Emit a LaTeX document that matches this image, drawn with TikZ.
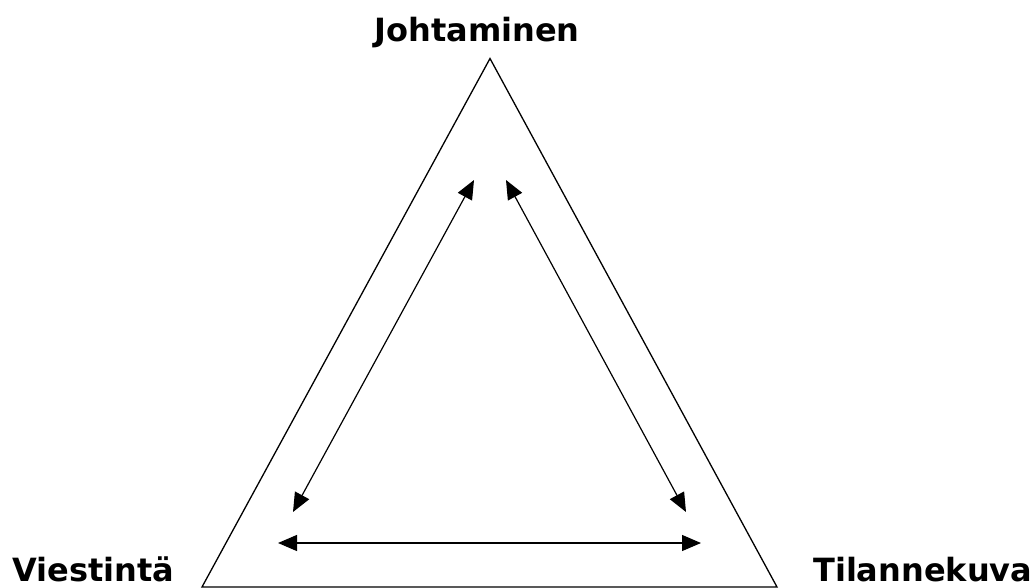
\documentclass[tikz,border=0pt]{standalone}
\usepackage{fontspec}
\setmainfont{DejaVu Sans}
\usetikzlibrary{arrows.meta}
\begin{document}
\begin{tikzpicture}[x=1pt,y=-1pt,
  lbl/.style={font=\bfseries\fontsize{32}{38}\selectfont, inner sep=0pt},
  tip/.style={Triangle[length=20pt,width=17pt]},
  dbl/.style={line width=1.2pt, {Triangle[length=19pt,width=16pt]}-{Triangle[length=19pt,width=16pt]}}]
\useasboundingbox (0,0) rectangle (1035,588);
\coordinate (A) at (490,58.5);
\coordinate (L) at (202,587);
\coordinate (R) at (777,587);
\draw[line width=1.3pt, line join=miter] (A) -- (L) -- (R) -- cycle;
\node[lbl, anchor=base] (j) at (477,42) {Johtaminen};
\node[lbl, anchor=base west] (v) at (12,581) {Viestintä};
\node[lbl, anchor=base west] (t) at (813,581) {Tilannekuva};
\coordinate (a1) at (474,180);
\coordinate (a2) at (293,512);
\coordinate (b1) at (506,180);
\coordinate (b2) at (686,512);
\coordinate (c1) at (278,543);
\coordinate (c2) at (701,543);
\draw[dbl] (a1) -- (a2);
\draw[dbl] (b1) -- (b2);
\draw[dbl] (c1) -- (c2);
\end{tikzpicture}
\end{document}
